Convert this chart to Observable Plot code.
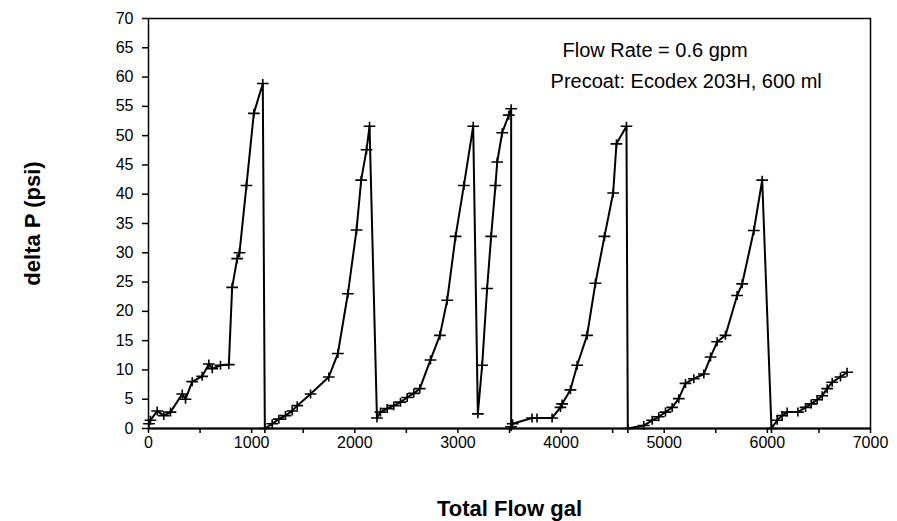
<!DOCTYPE html>
<html>
<head>
<meta charset="utf-8">
<script src="https://cdn.jsdelivr.net/npm/d3@7"></script>
<script src="https://cdn.jsdelivr.net/npm/@observablehq/plot@0.6"></script>
<style>
  html, body { margin: 0; padding: 0; background: white; }
</style>
</head>
<body>
<div id="chart"></div>
<script>
// Total flow (gal) and pressure drop (psi), in sequence order
const totalFlow = [
  5, 19, 84, 148, 213, 327, 359, 424, 520, 585, 618, 698, 779, 811, 860, 882, 950, 1021, 1108,
  1128, 1199, 1264, 1328, 1393, 1442, 1571, 1748, 1836, 1933, 2017, 2062, 2114, 2143,
  2215, 2249, 2314, 2378, 2443, 2508, 2572, 2630, 2734, 2825, 2896, 2977, 3058, 3148,
  3193, 3235, 3283, 3322, 3364, 3381, 3429, 3493, 3516,
  3516, 3530, 3719, 3767, 3913, 3994, 4010, 4091, 4156, 4252, 4333, 4421, 4505, 4537, 4634,
  4647, 4802, 4883, 4947, 5012, 5077, 5141, 5206, 5287, 5384, 5449, 5513, 5594, 5707, 5756, 5869, 5950,
  6040, 6095, 6143, 6192, 6296, 6370, 6425, 6483, 6532, 6580, 6629, 6709, 6773
];
const deltaP = [
  0.8, 1.4, 3.0, 2.2, 2.8, 5.9, 5.0, 8.0, 8.9, 11.0, 10.2, 10.8, 10.9, 24.1, 29.0, 30.0, 41.5, 53.8, 58.9,
  0, 0.8, 1.6, 2.2, 3.0, 3.9, 5.9, 8.8, 12.8, 23.0, 33.9, 42.4, 47.6, 51.6,
  1.8, 2.8, 3.4, 3.9, 4.5, 5.3, 6.0, 6.8, 11.7, 15.9, 21.9, 32.8, 41.5, 51.6,
  2.5, 10.8, 23.9, 32.8, 41.5, 45.5, 50.5, 53.5, 54.6,
  0.3, 0.8, 1.8, 1.8, 1.8, 3.6, 4.2, 6.6, 10.8, 15.9, 24.8, 32.8, 40.2, 48.6, 51.6,
  0, 0.5, 1.4, 2.0, 2.8, 3.6, 5.1, 7.7, 8.5, 9.3, 12.2, 14.8, 15.9, 22.7, 24.7, 33.8, 42.4,
  0, 1.4, 2.2, 2.8, 2.8, 3.6, 4.2, 4.9, 5.6, 6.8, 7.9, 8.8, 9.6
];
const xTicks = [0, 500, 1000, 1500, 2000, 2500, 3000, 3500, 4000, 4500, 5000, 5500, 6000, 6500, 7000];
const yTicks = [0, 5, 10, 15, 20, 25, 30, 35, 40, 45, 50, 55, 60, 65, 70];
const notes = ["Flow Rate = 0.6 gpm", "Precoat: Ecodex 203H, 600 ml"];
const noteX = [4014, 3898];
const noteY = [64.6, 59.3];

const data = totalFlow.map((x, i) => ({x, y: deltaP[i]}));
const noteData = notes.map((t, i) => ({t, x: noteX[i], y: noteY[i]}));

// plus-shaped marker drawn as strokes
const plusSymbol = {
  draw(context, size) {
    const r = Math.sqrt(size / Math.PI);
    context.moveTo(-r * 1.3, 0);
    context.lineTo(r * 1.3, 0);
    context.moveTo(0, -r);
    context.lineTo(0, r);
  }
};

const chart = Plot.plot({
  width: 897,
  height: 521,
  marginLeft: 148,
  marginRight: 27,
  marginTop: 18,
  marginBottom: 93,
  style: {fontFamily: "'Liberation Sans', Arial, sans-serif", fontSize: "16px", color: "black", background: "white"},
  x: {domain: [0, 7000]},
  y: {domain: [0, 70]},
  marks: [
    Plot.frame({stroke: "black", strokeWidth: 1.5}),
    Plot.ruleY([0], {stroke: "black", strokeWidth: 2}),
    Plot.axisX({ticks: xTicks, tickFormat: d => d % 1000 === 0 ? String(d) : "", tickSize: 5, tickPadding: 3, label: null, strokeWidth: 1.5, fontSize: 16}),
    Plot.axisY({ticks: yTicks, tickSize: 6, tickPadding: 9, label: null, strokeWidth: 1.5, fontSize: 16}),
    Plot.line(data, {x: "x", y: "y", stroke: "black", strokeWidth: 2}),
    Plot.dot(data, {x: "x", y: "y", symbol: plusSymbol, r: 4.5, fill: "none", stroke: "black", strokeWidth: 1.6}),
    Plot.text(noteData, {x: "x", y: "y", text: "t", textAnchor: "start", fontSize: 20}),
    Plot.text(["delta P (psi)"], {frameAnchor: "left", dx: -116, rotate: -90, textAnchor: "middle", lineAnchor: "middle", fontWeight: "bold", fontSize: 22}),
    Plot.text(["Total Flow gal"], {frameAnchor: "bottom", dy: 80, textAnchor: "middle", lineAnchor: "middle", fontWeight: "bold", fontSize: 22})
  ]
});
document.getElementById("chart").append(chart);
</script>
</body>
</html>
